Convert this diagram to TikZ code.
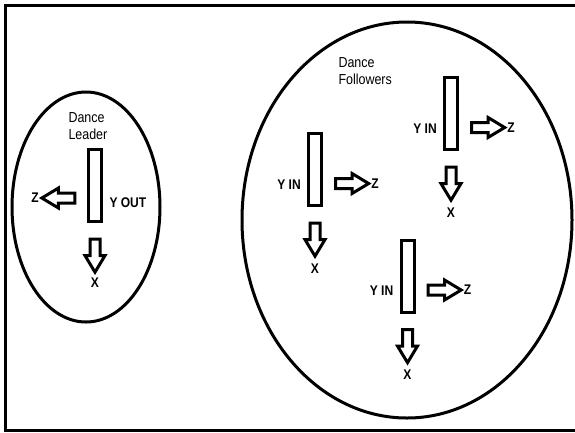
\documentclass[tikz,border=0pt]{standalone}
\usepackage{fontspec}
\setmainfont{Liberation Sans}
\newfontfamily\narrowfont[FakeStretch=0.86]{Liberation Sans}
\usetikzlibrary{shapes.arrows}
\begin{document}
\begin{tikzpicture}[x=1pt, y=-1pt, line width=3pt,
	bar/.style={draw, rectangle, minimum width=13pt, minimum height=72pt, inner sep=0pt},
	blockarrow/.style={draw, single arrow, minimum height=33pt, inner xsep=0pt, inner ysep=3.5pt, single arrow head extend=5pt, single arrow tip angle=62},
	axis/.style={font=\narrowfont\fontsize{14}{16}\selectfont\bfseries, inner sep=0pt},
	group/.style={font=\narrowfont\fontsize{14.5}{17.5}\selectfont, align=left, anchor=west, inner sep=0pt}]
	\useasboundingbox (0,0) rectangle (575,432);
	\draw (578,5) -- (5,5) -- (5,430) -- (578,430);
	% leader
	\draw (86,207) ellipse [x radius=74, y radius=115];
	\node[group] (leadername) at (67,126) {Dance\\Leader};
	\node[bar] (leader) at (95,185) {};
	\node[blockarrow, rotate=180] (leaderz) at (62.5,198) {};
	\node[axis] (leaderzlabel) at (35,198) {Z};
	\node[axis, anchor=west] (leaderylabel) at (108,203) {Y OUT};
	\node[blockarrow, rotate=-90] (leaderx) at (95,251.5) {};
	\node[axis] (leaderxlabel) at (95,283) {X};
	% followers
	\draw (407,220) ellipse [x radius=165, y radius=198];
	\node[group] (followername) at (337,71) {Dance\\Followers};
	\foreach \n/\cx/\cy in {a/451/113.5, b/315/169.5, c/407.5/276} {
		\node[bar] (follower\n) at (\cx,\cy) {};
		\node[blockarrow] (followerz\n) at ({\cx+33},{\cy+14}) {};
		\node[axis] (followerzlabel\n) at ({\cx+60},{\cy+14}) {Z};
		\node[axis] (followerylabel\n) at ({\cx-26},{\cy+15}) {Y IN};
		\node[blockarrow, rotate=-90] (followerx\n) at (\cx,{\cy+66}) {};
		\node[axis] (followerxlabel\n) at (\cx,{\cy+99}) {X};
	}
\end{tikzpicture}
\end{document}
